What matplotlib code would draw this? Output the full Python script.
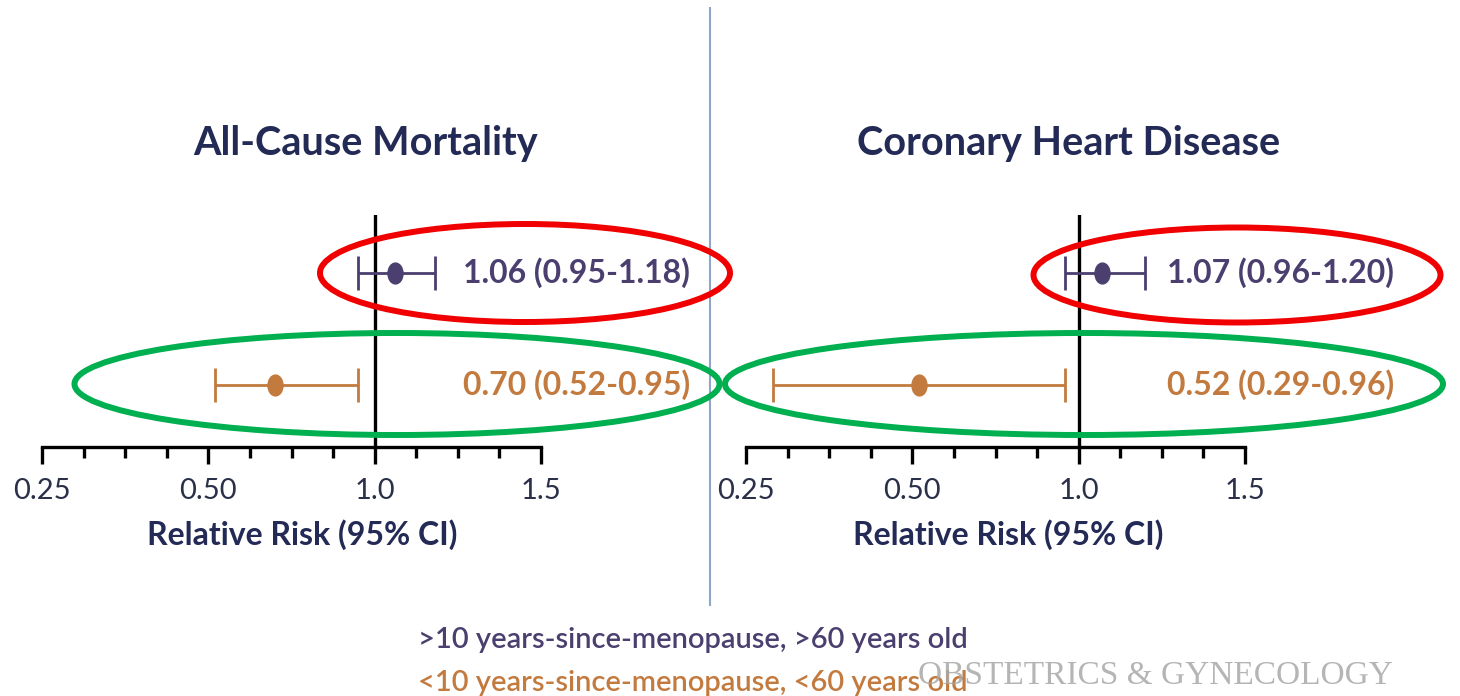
import numpy as np
import matplotlib
matplotlib.use("Agg")
import matplotlib.pyplot as plt
from matplotlib.patches import Ellipse
from matplotlib.path import Path
from matplotlib.transforms import Affine2D

plt.rcParams["font.family"] = ["Lato", "DejaVu Sans"]

# Data
panelTitles = ["All-Cause Mortality", "Coronary Heart Disease"]
groupLabels = [">10 years-since-menopause, >60 years old",
               "<10 years-since-menopause, <60 years old"]
# rows: [older group, younger group]
estimates = [[1.06, 0.70], [1.07, 0.52]]
lowerCI = [[0.95, 0.52], [0.96, 0.29]]
upperCI = [[1.18, 0.95], [1.20, 0.96]]
tickValues = [0.25, 0.50, 1.0, 1.5]
tickLabels = ["0.25", "0.50", "1.0", "1.5"]
minorTickValues = [0.3125, 0.375, 0.4375, 0.625, 0.75, 0.875, 1.125, 1.25, 1.375]

purple = "#4a3f6e"
orange = "#c27a3e"
navy = "#232a55"
groupColors = [purple, orange]

# piecewise linear axis: equal spacing between 0.25, 0.50, 1.0, 1.5
def forward(x):
    x = np.asarray(x, dtype=float)
    return np.interp(x, tickValues, [0, 1, 2, 3])

def inverse(x):
    return np.interp(x, [0, 1, 2, 3], tickValues)

# slightly tall ellipse marker
ellipseMarker = Path.unit_circle().transformed(Affine2D().scale(0.72, 1.0))

fig = plt.figure(figsize=(14.6, 6.96), dpi=100)
W, H = 1460, 696

axLefts = [42, 746]
axWidth = 499
axBottom, axTop = 447, 215
titleX = [366, 1069]
xlabelX = [302, 1008]

for p in range(2):
    ax = fig.add_axes([axLefts[p] / W, 1 - axBottom / H, axWidth / W, (axBottom - axTop) / H])
    ax.set_xscale("function", functions=(forward, inverse))
    ax.set_xlim(0.25, 1.5)
    ax.set_ylim(-0.554, 1.518)
    for side in ["top", "left", "right"]:
        ax.spines[side].set_visible(False)
    ax.spines["bottom"].set_linewidth(2.4)
    ax.set_yticks([])
    ax.set_xticks(tickValues)
    ax.set_xticklabels(tickLabels, fontsize=21, color="#2a2f4a")
    ax.set_xticks(minorTickValues, minor=True)
    ax.tick_params(axis="x", which="major", length=12, width=2.4, pad=10)
    ax.tick_params(axis="x", which="minor", length=8, width=2.4)
    ax.axvline(1.0, color="black", lw=2.4, zorder=1)

    for g in range(2):
        y = 1 - g
        est = estimates[p][g]
        ax.errorbar([est], [y],
                    xerr=[[est - lowerCI[p][g]], [upperCI[p][g] - est]],
                    fmt="none", ecolor=groupColors[g], elinewidth=2.0,
                    capsize=12, capthick=2.0, zorder=3, clip_on=False)
        ax.plot([est], [y], marker=ellipseMarker, markersize=15, color=groupColors[g],
                linestyle="none", zorder=4, clip_on=False)
        label = f"{est:.2f} ({lowerCI[p][g]:.2f}-{upperCI[p][g]:.2f})"
        ax.annotate(label, xy=(0.843, y), xycoords=("axes fraction", "data"),
                    ha="left", va="center", fontsize=23, fontweight="bold",
                    color=groupColors[g], annotation_clip=False)

    fig.text(titleX[p] / W, 1 - 143 / H, panelTitles[p], ha="center", va="center",
             fontsize=28.5, fontweight="bold", color=navy)
    fig.text(xlabelX[p] / W, 1 - 535 / H, "Relative Risk (95% CI)", ha="center",
             va="center", fontsize=23, fontweight="bold", color=navy)

# divider between panels
fig.add_artist(plt.Line2D([710 / W, 710 / W], [1 - 8 / H, 1 - 605 / H],
                          color="#8fa6c6", lw=1.5))

# highlight ellipses
ellipses = [((525, 273), 410, 98, "#f00000"),
            ((397, 384), 645, 102, "#00b050"),
            ((1237, 275), 407, 95, "#f00000"),
            ((1084, 384), 718, 102, "#00b050")]
for (cx, cy), ew, eh, ec in ellipses:
    fig.add_artist(Ellipse((cx / W, 1 - cy / H), ew / W, eh / H, transform=fig.transFigure,
                           fill=False, edgecolor=ec, lw=4.3, zorder=5))

# group legend
fig.text(418 / W, 1 - 640 / H, groupLabels[0], ha="left", va="center",
         fontsize=21, fontweight="semibold", color=purple)
fig.text(418 / W, 1 - 683 / H, groupLabels[1], ha="left", va="center",
         fontsize=21, fontweight="semibold", color=orange)
fig.text(918 / W, 1 - 676 / H, "OBSTETRICS & GYNECOLOGY", ha="left", va="center",
         fontsize=24, color="#a8a8a8", family="Liberation Serif", alpha=0.85)

fig.savefig("out.png", dpi=100)
